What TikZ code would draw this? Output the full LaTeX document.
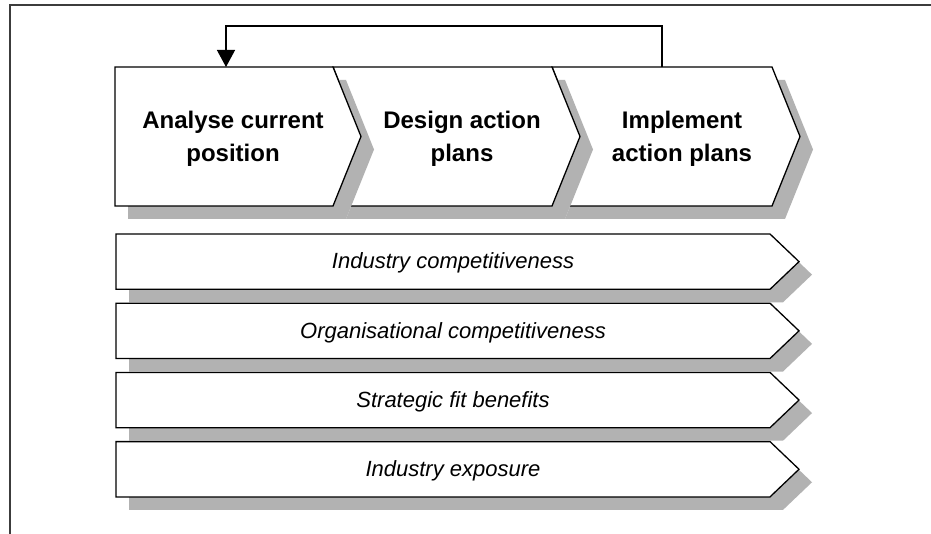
\documentclass[tikz,border=0pt]{standalone}
\usepackage{fontspec}
\setmainfont{Liberation Sans}
\usetikzlibrary{arrows.meta}
\definecolor{shade}{RGB}{178,178,178}
\definecolor{framecol}{RGB}{60,60,60}
\tikzset{
  x=1pt, y=-1pt,
  shapeline/.style={draw=black, fill=white, line width=1.3pt, line join=miter},
  shadowfill/.style={fill=shade, draw=none},
  steplabel/.style={align=center, font=\fontsize{24}{33}\selectfont\bfseries, inner sep=0pt},
  barlabel/.style={font=\fontsize{22}{26}\selectfont\itshape, inner sep=0pt},
  loop/.style={draw=black, line width=1.3pt, -{Triangle[width=18pt,length=17pt]}},
}
\newcommand{\chevA}[1]{(115,67) -- (333,67) -- (361,136.5) -- (333,206) -- (115,206) -- cycle}
\newcommand{\chevB}{(333,67) -- (552,67) -- (580,136.5) -- (552,206) -- (333,206) -- (361,136.5) -- cycle}
\newcommand{\chevC}{(552,67) -- (772,67) -- (800,136.5) -- (772,206) -- (552,206) -- (580,136.5) -- cycle}
\newcommand{\barshape}[1]{(116,#1) -- (770,#1) -- (799,#1+27.65) -- (770,#1+55.3) -- (116,#1+55.3) -- cycle}
\begin{document}
\begin{tikzpicture}
\useasboundingbox (0,0) rectangle (931,534);
\clip (0,0) rectangle (931,534);
\fill[white] (0,0) rectangle (931,534);
% frame
\draw[framecol, line width=1.5pt] (10,560) -- (10,5) -- (960,5);

% top chevrons, drawn from right to left so each shadow lies on the next step
\fill[shadowfill, shift={(13,13)}] \chevC;
\draw[shapeline] \chevC;
\fill[shadowfill, shift={(13,13)}] \chevB;
\draw[shapeline] \chevB;
\fill[shadowfill, shift={(13,13)}] \chevA{};
\draw[shapeline] \chevA{};

\node[steplabel] (analyse) at (233,139) {Analyse current\\position};
\node[steplabel] (design) at (462,139) {Design action\\plans};
\node[steplabel] (implement) at (682,139) {Implement\\action plans};

\coordinate (implementtop) at (662,67);
\coordinate (analysetop) at (226,67);
\draw[loop] (implementtop) -- ++(0,-41) -| (analysetop);

% bars
\foreach \t/\name/\txt in {234/industry/{Industry competitiveness},303.2/organisation/{Organisational competitiveness},372.4/fit/{Strategic fit benefits},441.6/exposure/{Industry exposure}}{
  \fill[shadowfill, shift={(13,13)}] \barshape{\t};
  \draw[shapeline] \barshape{\t};
  \node[barlabel] (\name) at (453,\t+29.2) {\txt};
}
\end{tikzpicture}
\end{document}
